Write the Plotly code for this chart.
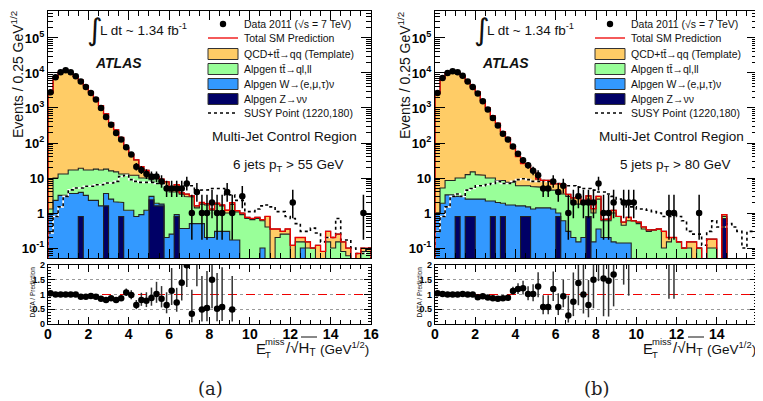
import numpy as np
import plotly.graph_objects as go

# The page adds an 8px body margin, so the figure is 8px smaller and all positions are shifted.
PAGE_W, PAGE_H = 763, 401
BODY_MARGIN = 8
FIG_W, FIG_H = PAGE_W - BODY_MARGIN, PAGE_H - BODY_MARGIN

N_BINS = 64
BIN_W = 0.25
EDGES = [i * BIN_W for i in range(N_BINS + 1)]
CENTERS = [e + BIN_W / 2 for e in EDGES[:-1]]

X_TICKS = [0, 2, 4, 6, 8, 10, 12, 14, 16]
Y_TICK_VALS = [0.1, 1, 10, 100, 1e3, 1e4, 1e5]
Y_TICK_TEXT = ["10<sup>-1</sup>", "1", "10", "10<sup>2</sup>", "10<sup>3</sup>", "10<sup>4</sup>", "10<sup>5</sup>"]
R_TICK_VALS = [0, 0.5, 1, 1.5, 2]
R_TICK_TEXT = ["0", "0.5", "1", "1.5", "2"]

# ---------------- panel (a): 6 jets pT > 55 GeV ----------------
DATA_A = [2800, 7600, 10400, 12000, 10400, 8000, 5700, 4000, 2700, 1740, 1000, 550, 330, 193, 125, 76,
          47, 21, 17, 13, 11, 11, 8, 5, 5, 5, 5, 7, 1, 4, 1, 1,
          2, 1, 1, 4, 1, 0, 3, 0, 0, 0, 0, 0, 0, 0, 0, 0,
          2, 0, 0, 0, 0, 0, 0, 0, 0, 0, 0, 0, 0, 0, 1, 0]
QCD_A = [2699, 7590, 10387, 11987, 10383, 7983, 6181, 4333, 2833, 1872, 1143, 662, 364, 223, 131, 58,
         36, 21, 11, 6.5, 3.5, 0.8, 1.3, 1.8, 0.6, 2.5, 0.3, 0.5, 0.2, 0.2, 0.2, 0.15,
         0.1, 0.1, 0.1, 0.2, 0.2, 0.1, 0.1, 0.05, 0.05, 0.05, 0.05, 0.4, 0.35, 0.15, 0.05, 0.1,
         0.12, 0.05, 0.05, 0.05, 0, 0.07, 0.08, 0.15, 0.1, 0.1, 0.07, 0.04, 0, 0.07, 0.02, 0.02]
TT_A = [0.4, 7.7, 9.8, 9.8, 13.4, 13.4, 15.1, 13.8, 14.7, 15.7, 15.4, 14.4, 13.5, 12.9, 11, 11.8,
        10.8, 11.2, 9.1, 8.8, 6, 8.1, 6.2, 5.8, 3.75, 3.1, 3.1, 2.6, 2.4, 0.9, 1.3, 1.5,
        1.0, 1.5, 1.3, 0.7, 1.6, 0.9, 0.9, 0.7, 0.65, 0.7, 0.5, 0.4, 0, 0.2, 0.25, 0.25,
        0, 0.15, 0.05, 0.1, 0.1, 0.05, 0, 0.15, 0.1, 0.15, 0.08, 0.06, 0, 0, 0.08, 0.08]
WLN_A = [0.9, 2.3, 3.2, 3.2, 3.6, 3.6, 3.1, 3.2, 2.3, 2.3, 1.6, 2.0, 2.5, 2.1, 1.2, 1.2,
         1.2, 0.8, 0.9, 1.2, 0.6, 0.3, 0.2, 0.2, 0.25, 0.1, 0.36, 0.36, 0.5, 0.5, 0.5, 0.2,
         0.2, 0.3, 0.3, 0.3, 0.17, 0.17, 0, 0, 0, 0, 0.1, 0, 0, 0, 0, 0,
         0, 0, 0.1, 0, 0, 0, 0, 0, 0, 0, 0, 0, 0, 0, 0, 0]
ZNN_A = [0, 0, 0, 0, 0, 0, 0.8, 0, 0, 0, 0, 1.6, 0, 0, 0.8, 0,
         0, 0, 0, 0, 2.4, 1.6, 1.6, 0, 0, 0.8, 0, 0, 0, 0, 0, 0,
         0, 0, 0, 0, 0, 0, 0, 0, 0, 0, 0, 0, 0, 0, 0, 0,
         0, 0, 0, 0, 0, 0, 0, 0, 0, 0, 0, 0, 0, 0, 0, 0]
SUSY_A = [0.27, 0.8, 1.5, 3, 4.6, 5.2, 5.2, 5.8, 5.8, 6.4, 6.4, 7.2, 7.2, 8, 11, 12,
          9, 8, 7.5, 7.5, 7.5, 7, 7, 6, 5, 5, 5, 6, 6, 4, 4.5, 4.6,
          5, 5, 5, 3.3, 3.3, 2.3, 2.3, 1.1, 1.1, 1.3, 1.6, 1.7, 1.5, 1.1, 1.1, 0.8,
          0.7, 0.5, 0.3, 0.3, 0.37, 0.27, 0.15, 0.2, 0.2, 0.7, 0.17, 0.17, 0.1, 0.07, 0.07, 0.1]
RATIO_A = [1.04, 1.0, 1.0, 1.0, 1.0, 1.0, 0.92, 0.92, 0.95, 0.92, 0.86, 0.81, 0.87, 0.81, 0.87, 1.07,
           0.98, 0.64, 0.81, 0.79, 0.88, 1.02, 0.86, 0.64, 1.13, 0.73, 1.4, 1.99, 0.35, 2.45, 0.49, 0.54,
           1.5, 0.52, 0.58, None, 0.49, None, None, None, None, None, None, None, None, None, None, None,
           None, None, None, None, None, None, None, None, None, None, None, None, None, None, None, None]

# ---------------- panel (b): 5 jets pT > 80 GeV ----------------
DATA_B = [2700, 7200, 10000, 11200, 10500, 8300, 5700, 4000, 2600, 1550, 900, 515, 315, 185, 125, 80,
          49, 32, 23, 16, 12, 5, 5, 8, 4, 6, 1, 2, 3, 2, 2, 2,
          7, 1, 1, 2, 0, 2, 2, 2, 0, 0, 0, 0, 0, 0, 1, 1,
          0, 0, 0, 0, 1, 0, 0, 0, 0, 0, 0, 0, 0, 0, 0, 0]
QCD_B = [2599, 7055, 9991, 11191, 10490, 8130, 5687, 3985, 2847, 1638, 990, 580, 357, 204, 132, 63,
         35, 20, 16.5, 10, 3.9, 3.6, 3.6, 2.2, 2.9, 2.9, 0.4, 0.5, 1.1, 0, 0.6, 0.33,
         0.5, 0.05, 0.08, 0.19, 0, 0.1, 0.15, 0, 0.05, 0.05, 0.03, 0, 0, 0.2, 0.05, 0,
         0, 0, 0.05, 0.15, 0, 0, 0.08, 0.08, 0, 0.1, 0, 0, 0, 0, 0, 0]
TT_B = [0, 3.3, 5.2, 5.2, 7.0, 7.0, 10, 12.5, 10, 9.5, 7.8, 7.8, 6.5, 6.6, 5.8, 5.8,
        4.4, 4.4, 4.5, 4.4, 4.1, 3.6, 3.6, 3.2, 3.0, 2.9, 2.7, 2.0, 1.65, 1.8, 1.7, 0.85,
        2.15, 0.4, 0.4, 0.85, 0.66, 0.31, 0.46, 0.6, 0.5, 0.35, 0.3, 0.33, 0.35, 0.1, 0.15, 0.2,
        0.15, 0.1, 0.1, 0, 0.1, 0, 0.1, 0.1, 0, 0.1, 0, 0, 0, 0, 0, 0]
WLN_B = [1.0, 1.9, 3.3, 3.3, 2.2, 3.0, 1.7, 1.7, 2.5, 2.5, 2.2, 1.4, 2.0, 1.1, 1.7, 1.7,
         1.6, 0.8, 0.7, 1.3, 1.4, 1.4, 1.4, 1.3, 0.2, 0.6, 0.3, 0.2, 0.15, 0.2, 0, 0.15,
         0.35, 0.2, 0.2, 0.15, 0.14, 0.14, 0.14, 0, 0, 0, 0, 0, 0, 0, 0, 0,
         0, 0, 0, 0, 0, 0, 0, 0, 0, 0, 0, 0, 0, 0, 0, 0]
ZNN_B = [0, 0, 0, 0, 0.8, 0, 0.8, 0.8, 0, 0, 0, 0.8, 0, 0.8, 0, 0,
         0, 0.8, 0.8, 0, 0, 0, 0, 0, 0.8, 0, 0, 0, 0, 0, 0.8, 0,
         0, 0, 0, 0, 0, 0, 0, 0, 0, 0, 0, 0, 0, 0, 0, 0,
         0, 0, 0, 0, 0, 0, 0, 0, 0, 0.7, 0, 0, 0, 0, 0, 0]
SUSY_B = [0.3, 0.8, 1.5, 3, 3.5, 3, 4.5, 5, 6, 6, 6.5, 7, 8, 7, 7, 8,
          9, 9.5, 9, 8, 8, 8.5, 8, 7, 7, 6.5, 6, 6, 5.5, 5, 5, 4.5,
          4, 4, 3.5, 3, 2.5, 2, 1.5, 1.5, 1.3, 1.3, 1.2, 1.1, 1.0, 0.8, 0.8, 1.0,
          0.8, 0.6, 0.3, 0.25, 0.25, 0.12, 0.3, 0.6, 0.4, 0.4, 0.5, 0.4, 0.3, 0.1, 0.3, 0.3]
RATIO_B = [1.04, 1.02, 1.0, 1.0, 1.0, 1.02, 1.0, 1.0, 0.91, 0.94, 0.9, 0.87, 0.86, 0.87, 0.89, 1.12,
           1.19, 1.21, 1.02, 1.02, 1.27, 0.58, 0.58, 1.19, 0.58, 0.94, 0.29, 0.75, 1.39, 1.0, 0.64, 1.5,
           2.3, 1.54, 1.47, 1.68, None, 3.75, 2.7, None, None, None, None, None, None, None, 5.0, 5.0,
           None, None, None, None, None, None, None, None, None, None, None, None, None, None, None, None]

PANELS = [
    dict(data=DATA_A, qcd=QCD_A, tt=TT_A, wln=WLN_A, znn=ZNN_A, susy=SUSY_A, ratio=RATIO_A,
         cut="6 jets p<sub>T</sub> > 55 GeV", tag="(a)", left=48, right=371),
    dict(data=DATA_B, qcd=QCD_B, tt=TT_B, wln=WLN_B, znn=ZNN_B, susy=SUSY_B, ratio=RATIO_B,
         cut="5 jets p<sub>T</sub> > 80 GeV", tag="(b)", left=435, right=757),
]

C_QCD = "#FFCC66"
C_TT = "#99FF99"
C_W = "#3399FF"
C_Z = "#000066"
FONT = "Liberation Sans, Arial, sans-serif"

MAIN_TOP, MAIN_BOT = 10.7, 258
RAT_TOP, RAT_BOT = 265, 324


def px(x):
    """page pixel x -> paper fraction"""
    return (x - BODY_MARGIN) / FIG_W


def py(y):
    """page pixel y -> paper fraction"""
    return 1 - (y - BODY_MARGIN) / FIG_H


def step_xy(vals, floor=1e-4):
    xs, ys = [EDGES[0]], [floor]
    for i, v in enumerate(vals):
        v = v if v > 0 else floor
        xs += [EDGES[i], EDGES[i + 1]]
        ys += [v, v]
    xs.append(EDGES[-1])
    ys.append(floor)
    return xs, ys


def poisson_band(n):
    n = np.asarray(n, float)
    hi = n + 1 + np.sqrt(n + 0.75)
    with np.errstate(divide="ignore", invalid="ignore"):
        lo = np.where(n > 0, n * (1 - 1 / (9 * n) - 1 / (3 * np.sqrt(n))) ** 3, 0)
    return lo, hi


def note(x, y, text, size, xanchor="left", family=FONT, angle=0, color="#111"):
    return dict(x=px(x), y=py(y), text=text, showarrow=False, xref="paper", yref="paper",
                xanchor=xanchor, yanchor="middle", textangle=angle, borderpad=0,
                font=dict(family=family, size=size, color=color))


fig = go.Figure()
shapes, annos = [], []
layout_axes = {}

for k, P in enumerate(PANELS):
    xm = "x" if k == 0 else f"x{2 * k + 1}"
    ym = "y" if k == 0 else f"y{2 * k + 1}"
    xr, yr = f"x{2 * k + 2}", f"y{2 * k + 2}"
    z = np.array(P["znn"], float)
    wz = z + np.array(P["wln"], float)
    twz = wz + np.array(P["tt"], float)
    tot = twz + np.array(P["qcd"], float)

    for vals, col in [(tot, C_QCD), (twz, C_TT), (wz, C_W), (z, C_Z)]:
        fig.add_trace(go.Bar(x=CENTERS, y=[v if v > 0 else None for v in vals], width=BIN_W,
                             marker=dict(color=col, line=dict(width=0)), xaxis=xm, yaxis=ym,
                             showlegend=False, hoverinfo="skip"))
    for vals in [tot, twz, wz, z]:
        sx, sy = step_xy(vals)
        fig.add_trace(go.Scatter(x=sx, y=sy, mode="lines", line=dict(color="#222222", width=1.1),
                                 xaxis=xm, yaxis=ym, showlegend=False, hoverinfo="skip"))
    sx, sy = step_xy(P["susy"])
    fig.add_trace(go.Scatter(x=sx, y=sy, mode="lines", line=dict(color="white", width=1.6),
                             xaxis=xm, yaxis=ym, showlegend=False, hoverinfo="skip"))
    fig.add_trace(go.Scatter(x=sx, y=sy, mode="lines", line=dict(color="black", width=1.6, dash="dot"),
                             xaxis=xm, yaxis=ym, showlegend=False, hoverinfo="skip"))
    sx, sy = step_xy(tot)
    fig.add_trace(go.Scatter(x=sx, y=sy, mode="lines", line=dict(color="#EE0000", width=1.3),
                             xaxis=xm, yaxis=ym, showlegend=False, hoverinfo="skip"))

    d = np.array(P["data"], float)
    lo, hi = poisson_band(d)
    m = d > 0
    fig.add_trace(go.Scatter(x=np.array(CENTERS)[m], y=d[m], mode="markers",
                             marker=dict(color="black", size=6.5),
                             error_y=dict(type="data", symmetric=False, array=(hi - d)[m],
                                          arrayminus=np.maximum(d - lo, 0)[m] * 0.999,
                                          color="black", thickness=1.5, width=0),
                             xaxis=xm, yaxis=ym, showlegend=False, hoverinfo="skip"))

    # ratio
    fig.add_trace(go.Scatter(x=[0, 16], y=[1, 1], mode="lines",
                             line=dict(color="#EE0000", width=1.1, dash="dash"),
                             xaxis=xr, yaxis=yr, showlegend=False, hoverinfo="skip"))
    rx, ry, rup, rdn = [], [], [], []
    for i, r in enumerate(P["ratio"]):
        if r is None or d[i] <= 0:
            continue
        rx.append(CENTERS[i])
        ry.append(r)
        rup.append(r * (hi[i] - d[i]) / d[i])
        rdn.append(r * (d[i] - lo[i]) / d[i])
    fig.add_trace(go.Scatter(x=rx, y=ry, mode="markers", marker=dict(color="black", size=6.5),
                             error_y=dict(type="data", symmetric=False, array=rup, arrayminus=rdn,
                                          color="#333333", thickness=1.5, width=0),
                             xaxis=xr, yaxis=yr, showlegend=False, hoverinfo="skip"))

    L, R = P["left"], P["right"]
    dom_x = [px(L), px(R)]
    common = dict(showline=True, linecolor="black", linewidth=1.2, mirror="allticks",
                  ticks="inside", tickcolor="black", zeroline=False, showgrid=False, automargin=False)
    minor_log = [m_ * 10 ** e for e in range(-2, 6) for m_ in range(2, 10)]
    layout_axes["xaxis" if k == 0 else f"xaxis{2 * k + 1}"] = dict(
        domain=dom_x, anchor=ym, range=[0, 16], tickvals=X_TICKS, showticklabels=False,
        ticklen=9, minor=dict(dtick=0.5, tick0=0, ticklen=5, ticks="inside", tickcolor="black"), **common)
    layout_axes["yaxis" if k == 0 else f"yaxis{2 * k + 1}"] = dict(
        domain=[py(MAIN_BOT), py(MAIN_TOP)], anchor=xm, type="log", range=[-1.284, 5.778],
        tickvals=Y_TICK_VALS, ticktext=Y_TICK_TEXT, ticklen=10,
        tickfont=dict(family=FONT, size=13, color="black", weight="bold"),
        minor=dict(tickvals=minor_log, ticklen=5, ticks="inside", tickcolor="black"), **common)
    layout_axes[f"xaxis{2 * k + 2}"] = dict(
        domain=dom_x, anchor=yr, range=[0, 16], tickvals=X_TICKS, ticklen=7, ticklabelstandoff=-3,
        tickfont=dict(family=FONT, size=14, color="black", weight="bold"),
        minor=dict(dtick=0.5, tick0=0, ticklen=4, ticks="inside", tickcolor="black"), **common)
    rc = dict(common)
    rc["showgrid"] = True
    layout_axes[f"yaxis{2 * k + 2}"] = dict(
        domain=[py(RAT_BOT), py(RAT_TOP)], anchor=xr, range=[0, 2], tickvals=R_TICK_VALS,
        ticktext=R_TICK_TEXT, ticklen=7, gridcolor="#9a9a9a", griddash="dot", gridwidth=1,
        tickfont=dict(family=FONT, size=9, color="black", weight="bold"),
        minor=dict(dtick=0.1, ticklen=3, ticks="inside", tickcolor="black", showgrid=False), **rc)

    # ---------- text ----------
    off = L - 48
    annos.append(note(off + 17, 75, "Events / 0.25 GeV<sup>1/2</sup>", 14, xanchor="center", angle=-90))
    annos.append(note(off + 31.5, 292, "DATA / Prediction", 6.5, xanchor="center", angle=-90))
    annos.append(note(off + 95, 30, "∫", 30, xanchor="center", family="DejaVu Sans"))
    annos.append(note(off + 99, 29, "L dt ~ 1.34 fb<sup>-1</sup>", 13.5))
    annos.append(note(off + 94, 63, "<b><i>ATLAS</i></b>", 14))
    annos.append(note(off + 358, 136, "Multi-Jet Control Region", 13.5, xanchor="right"))
    annos.append(note(off + 232, 166, P["cut"], 13.5))
    # x-axis title
    annos.append(note(off + 255, 348, "E", 15))
    annos.append(note(off + 264, 341, "miss", 9.5))
    annos.append(note(off + 264, 354, "T", 9.5))
    annos.append(note(off + 285, 348, "/√H<sub>T</sub>", 15))
    annos.append(note(off + 319, 348, "(GeV<sup>1/2</sup>)", 13.5))
    shapes.append(dict(type="line", xref="paper", yref="paper", x0=px(off + 301), x1=px(off + 317),
                       y0=py(337), y1=py(337), line=dict(color="#111", width=1)))
    annos.append(note(off + 210, 388, P["tag"], 18, xanchor="center",
                      family="DejaVu Serif, Liberation Serif, serif", color="#222"))

    # ---------- legend ----------
    bx0, bx1, tx = off + 208, off + 238, off + 243
    rows = [24, 38, 54, 69, 84, 99, 113]
    labels = ["Data 2011 (√s = 7 TeV)", "Total SM Prediction", "QCD+tt̄→qq (Template)",
              "Alpgen tt̄→ql,ll", "Alpgen W→(e,μ,τ)ν", "Alpgen Z→νν", "SUSY Point (1220,180)"]
    for yy, lab in zip(rows, labels):
        annos.append(note(tx, yy, lab, 10.5))
    cx = (bx0 + bx1) / 2
    shapes.append(dict(type="circle", xref="paper", yref="paper", x0=px(cx - 3.2), x1=px(cx + 3.2),
                       y0=py(rows[0] + 3.2), y1=py(rows[0] - 3.2), fillcolor="black", line=dict(width=0)))
    shapes.append(dict(type="line", xref="paper", yref="paper", x0=px(bx0), x1=px(bx1),
                       y0=py(rows[1]), y1=py(rows[1]), line=dict(color="#EE0000", width=1.3)))
    for yy, col in zip(rows[2:6], [C_QCD, C_TT, C_W, C_Z]):
        shapes.append(dict(type="rect", xref="paper", yref="paper", x0=px(bx0), x1=px(bx1),
                           y0=py(yy + 5.5), y1=py(yy - 5.5), fillcolor=col, line=dict(color="#333", width=1)))
    shapes.append(dict(type="line", xref="paper", yref="paper", x0=px(bx0), x1=px(bx1),
                       y0=py(rows[6]), y1=py(rows[6]), line=dict(color="black", width=1.6, dash="dot")))

fig.update_layout(width=FIG_W, height=FIG_H, autosize=False, margin=dict(l=0, r=0, t=0, b=0, pad=0),
                  paper_bgcolor="white", plot_bgcolor="white", barmode="overlay", bargap=0,
                  showlegend=False, shapes=shapes, annotations=annos, **layout_axes)
fig.write_html("out.html")
